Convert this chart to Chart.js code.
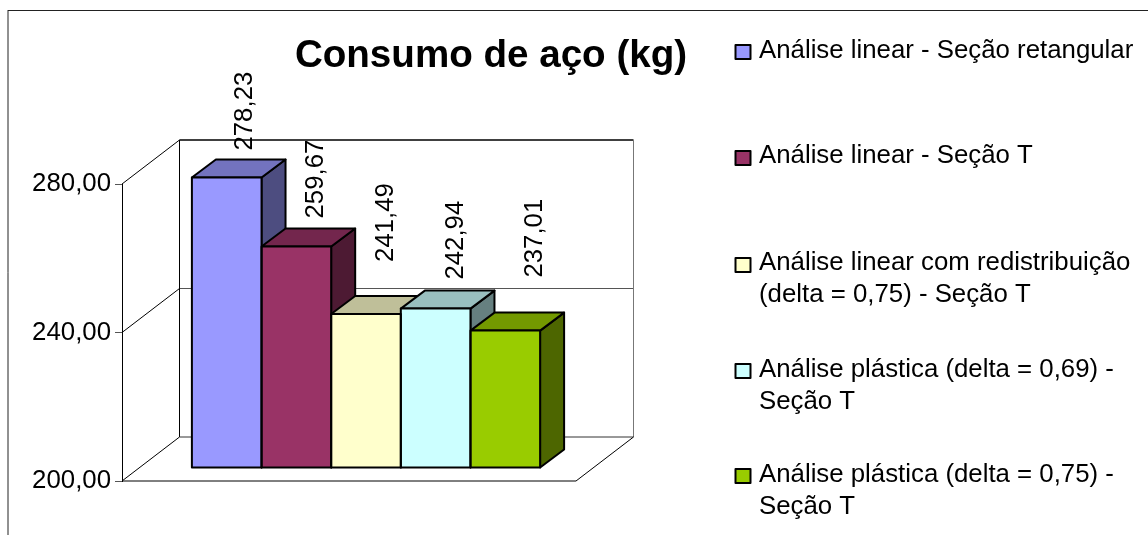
<!DOCTYPE html>
<html>
<head>
<meta charset="utf-8">
<title>Consumo de aço (kg)</title>
<script src="https://cdn.jsdelivr.net/npm/chart.js@4"></script>
<style>
  html, body { margin: 0; padding: 0; background: #fff; }
  canvas { display: block; }
</style>
</head>
<body>
<canvas id="chart" width="1148" height="535"></canvas>
<script>
var chartTitle = 'Consumo de aço (kg)';
var categories = [''];
var seriesNames = [
    'Análise linear - Seção retangular',
    'Análise linear - Seção T',
    'Análise linear com redistribuição (delta = 0,75) - Seção T',
    'Análise plástica (delta = 0,69) - Seção T',
    'Análise plástica (delta = 0,75) - Seção T'
];
var seriesValues = [278.23, 259.67, 241.49, 242.94, 237.01];
var seriesColors = ['#9999FF', '#993366', '#FFFFCC', '#CCFFFF', '#99CC00'];

var FONT = '"Liberation Sans", Arial, sans-serif';
var TEXT_SIZE = 25.8;
var EDGE = 2;                          // outline of bars and legend boxes
var WALL = { dx: 57.5, dy: -44 };      // depth of the whole 3d box
var BAR_PLANE = { dx: 17, dy: -13 };   // where the bar fronts sit in that box
var BAR_DEPTH = { dx: 24, dy: -18 };

// excel shifted these labels by hand, so each one has its own offset from the bar
var LABEL_OFFSETS = [[18, 27], [20, 28], [20, 52], [20, 29], [30, 53]];
var LEGEND_ROWS = [
    { box: 45, lines: [[seriesNames[0], 58]] },
    { box: 151, lines: [[seriesNames[1], 163]] },
    { box: 258, lines: [['Análise linear com redistribuição', 270], ['(delta = 0,75) - Seção T', 302]] },
    { box: 364, lines: [['Análise plástica (delta = 0,69) -', 377], ['Seção T', 409]] },
    { box: 469, lines: [['Análise plástica (delta = 0,75) -', 482], ['Seção T', 514]] }
];

function shade(hex, f) {
    var n = parseInt(hex.slice(1), 16);
    var r = Math.round((n >> 16 & 255) * f);
    var g = Math.round((n >> 8 & 255) * f);
    var b = Math.round((n & 255) * f);
    return 'rgb(' + r + ',' + g + ',' + b + ')';
}

function poly(ctx, pts, fill, stroke, width) {
    ctx.beginPath();
    pts.forEach(function (p, i) {
        if (i === 0) ctx.moveTo(p[0], p[1]); else ctx.lineTo(p[0], p[1]);
    });
    ctx.closePath();
    if (fill) { ctx.fillStyle = fill; ctx.fill(); }
    if (stroke) {
        ctx.strokeStyle = stroke;
        ctx.lineWidth = width;
        ctx.lineJoin = 'round';
        ctx.stroke();
    }
}

function line(ctx, x1, y1, x2, y2, color, width) {
    ctx.beginPath();
    ctx.moveTo(x1, y1);
    ctx.lineTo(x2, y2);
    ctx.strokeStyle = color;
    ctx.lineWidth = width;
    ctx.stroke();
}

var boxPlugin = {
    id: 'box3d',
    beforeDatasetsDraw: function (chart) {
        var ctx = chart.ctx, a = chart.chartArea, y = chart.scales.y;
        ctx.save();
        // side wall grid runs from the front axis back to the wall
        y.ticks.forEach(function (t) {
            var py = y.getPixelForValue(t.value);
            line(ctx, a.left, py, a.left + WALL.dx, py + WALL.dy, '#000', 1);
            if (t.value > y.min && t.value < y.max) {
                line(ctx, a.left + WALL.dx, py + WALL.dy, a.right + WALL.dx, py + WALL.dy, '#555', 1);
            }
        });
        line(ctx, a.left + WALL.dx, a.top + WALL.dy, a.left + WALL.dx, a.bottom + WALL.dy, '#000', 1);
        line(ctx, a.left + WALL.dx, a.top + WALL.dy, a.right + WALL.dx, a.top + WALL.dy, '#000', 1.6);
        line(ctx, a.right + WALL.dx, a.top + WALL.dy, a.right + WALL.dx, a.bottom + WALL.dy, '#777', 1);
        line(ctx, a.left + WALL.dx, a.bottom + WALL.dy, a.right + WALL.dx, a.bottom + WALL.dy, '#333', 1);
        line(ctx, a.right + WALL.dx, a.bottom + WALL.dy, a.right, a.bottom, '#000', 1);
        line(ctx, a.left, a.bottom, a.right, a.bottom, '#000', 1);

        // side and top faces left to right, the library paints the fronts over them
        var d = BAR_DEPTH;
        ctx.translate(BAR_PLANE.dx, BAR_PLANE.dy);
        chart.data.datasets.forEach(function (ds, i) {
            var bar = chart.getDatasetMeta(i).data[0];
            var l = bar.x - bar.width / 2, r = bar.x + bar.width / 2;
            poly(ctx, [[r, bar.y], [r + d.dx, bar.y + d.dy], [r + d.dx, bar.base + d.dy], [r, bar.base]],
                shade(seriesColors[i], 0.5), '#000', EDGE);
            poly(ctx, [[l, bar.y], [l + d.dx, bar.y + d.dy], [r + d.dx, bar.y + d.dy], [r, bar.y]],
                shade(seriesColors[i], 0.75), '#000', EDGE);
        });
        ctx.restore();
    },
    beforeDatasetDraw: function (chart) {
        chart.ctx.save();
        chart.ctx.translate(BAR_PLANE.dx, BAR_PLANE.dy);
    },
    afterDatasetDraw: function (chart) {
        chart.ctx.restore();
    },
    afterDatasetsDraw: function (chart) {
        var ctx = chart.ctx;
        ctx.save();
        ctx.translate(BAR_PLANE.dx, BAR_PLANE.dy);
        chart.data.datasets.forEach(function (ds, i) {
            var bar = chart.getDatasetMeta(i).data[0];
            var l = bar.x - bar.width / 2, r = bar.x + bar.width / 2;
            poly(ctx, [[l, bar.y], [r, bar.y], [r, bar.base], [l, bar.base]], null, '#000', EDGE);
        });
        ctx.restore();
    },
    afterDraw: function (chart) {
        var ctx = chart.ctx;
        ctx.save();

        // outer frame, only top and left are inside the picture
        line(ctx, 8, 10.5, chart.width, 10.5, '#222', 1);
        line(ctx, 8, 10, 8, chart.height, '#222', 1);

        ctx.fillStyle = '#000';
        ctx.textBaseline = 'alphabetic';

        ctx.font = 'bold 38.6px ' + FONT;
        ctx.textAlign = 'center';
        ctx.fillText(chartTitle, 491, 67);

        // value labels, rotated like the source
        ctx.font = TEXT_SIZE + 'px ' + FONT;
        chart.data.datasets.forEach(function (ds, i) {
            var bar = chart.getDatasetMeta(i).data[0];
            var off = LABEL_OFFSETS[i];
            ctx.save();
            ctx.translate(bar.x + BAR_PLANE.dx + off[0], bar.y + BAR_PLANE.dy - off[1]);
            ctx.rotate(-Math.PI / 2);
            ctx.textAlign = 'left';
            ctx.textBaseline = 'middle';
            ctx.fillText(ds.data[0].toFixed(2).replace('.', ','), 0, 0);
            ctx.restore();
        });

        // legend
        ctx.textAlign = 'left';
        ctx.textBaseline = 'alphabetic';
        LEGEND_ROWS.forEach(function (row, i) {
            poly(ctx, [[735.5, row.box], [750.5, row.box], [750.5, row.box + 14], [735.5, row.box + 14]],
                seriesColors[i], '#000', EDGE);
            ctx.fillStyle = '#000';
            row.lines.forEach(function (ln) {
                ctx.fillText(ln[0], 759, ln[1]);
            });
        });
        ctx.restore();
    }
};

new Chart(document.getElementById('chart'), {
    type: 'bar',
    data: {
        labels: categories,
        datasets: seriesNames.map(function (name, i) {
            return {
                label: name,
                data: [seriesValues[i]],
                backgroundColor: seriesColors[i],
                borderWidth: 0,
                base: 200,
                clip: false
            };
        })
    },
    options: {
        responsive: false,
        animation: false,
        layout: { padding: { left: 0, right: 572, top: 184, bottom: 54 } },
        datasets: { bar: { barPercentage: 1, categoryPercentage: 0.767 } },
        plugins: {
            legend: { display: false },
            title: { display: false },
            tooltip: { enabled: false }
        },
        scales: {
            x: { display: false },
            y: {
                min: 200,
                max: 280,
                afterFit: function (scale) { scale.width = 122; },
                ticks: {
                    stepSize: 40,
                    color: '#000',
                    padding: 4,
                    font: { family: FONT, size: TEXT_SIZE },
                    callback: function (val) { return val.toFixed(2).replace('.', ','); }
                },
                grid: { drawOnChartArea: false, tickLength: 7, color: '#555' },
                border: { display: true, color: '#000', width: 1 }
            }
        }
    },
    plugins: [boxPlugin]
});
</script>
</body>
</html>
